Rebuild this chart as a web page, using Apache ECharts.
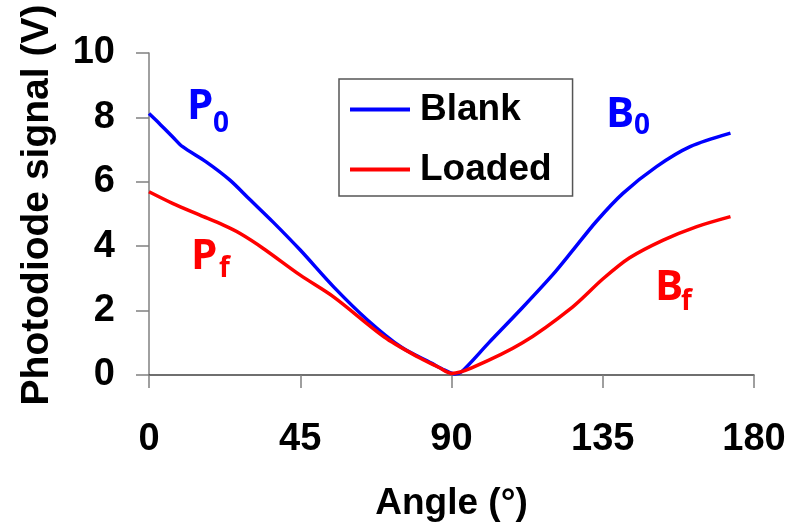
<!DOCTYPE html>
<html>
<head>
<meta charset="utf-8">
<script src="https://cdn.jsdelivr.net/npm/echarts@6/dist/echarts.min.js"></script>
<style>
  html, body { margin: 0; padding: 0; background: #fff; }
  #chart { width: 790px; height: 527px; }
</style>
</head>
<body>
<div id="chart"></div>
<script>
// Photodiode signal vs. polarizer angle, blank and loaded samples
const blankAngles = [0, 3, 7, 10, 17, 24, 30, 37, 45, 55, 65, 75, 84, 88, 91, 93, 101, 111, 120, 126, 133, 141, 151, 161, 173];
const blankSignal = [8.12, 7.82, 7.40, 7.09, 6.62, 6.06, 5.45, 4.74, 3.88, 2.73, 1.71, 0.87, 0.37, 0.15, 0.03, 0.1, 0.99, 2.08, 3.1, 3.86, 4.76, 5.64, 6.47, 7.09, 7.51];
const loadedAngles = [0, 7, 15, 22, 27, 34, 45, 55, 70, 80, 86, 90, 96, 111, 126, 135, 143, 153, 163, 173];
const loadedSignal = [5.69, 5.33, 4.97, 4.66, 4.40, 3.93, 3.1, 2.42, 1.18, 0.56, 0.25, 0.05, 0.22, 0.99, 2.11, 2.98, 3.64, 4.19, 4.61, 4.92];
const xTicks = [0, 45, 90, 135, 180];
const yTicks = [0, 2, 4, 6, 8, 10];
const seriesNames = ['Blank', 'Loaded'];

const pair = (xs, ys) => xs.map((x, i) => [x, ys[i]]);

const fontMain = '"Liberation Sans", Arial, sans-serif';
const fontLabel = '"Open Sans", sans-serif';

// curve annotation: big letter plus subscript
function tag(letter, sub, color, x, y, sx, sy) {
  return [
    { type: 'text', left: x, top: y, style: { text: letter, fill: color, font: 'bold 42px ' + fontLabel } },
    { type: 'text', left: sx, top: sy, style: { text: sub, fill: color, font: 'bold 28px ' + fontLabel } }
  ];
}

const chart = echarts.init(document.getElementById('chart'), null, { renderer: 'canvas' });
chart.setOption({
  animation: false,
  backgroundColor: '#fff',
  grid: { left: 149, right: 36, top: 53, bottom: 152, containLabel: false },
  xAxis: {
    type: 'value',
    min: xTicks[0], max: xTicks[xTicks.length - 1], interval: 45,
    name: 'Angle (°)', nameLocation: 'middle', nameGap: 110,
    nameTextStyle: { fontFamily: fontMain, fontWeight: 'bold', fontSize: 37, color: '#000' },
    axisLine: { lineStyle: { color: '#404040', width: 1.5 } },
    axisTick: { show: true, length: 13, lineStyle: { color: '#808080', width: 1.5 } },
    axisLabel: { margin: 46, fontFamily: fontMain, fontWeight: 'bold', fontSize: 38, color: '#000' },
    splitLine: { show: false }
  },
  yAxis: {
    type: 'value',
    min: yTicks[0], max: yTicks[yTicks.length - 1], interval: 2,
    name: 'Photodiode signal (V)', nameLocation: 'middle', nameGap: 92, nameRotate: 90,
    nameTextStyle: { fontFamily: fontMain, fontWeight: 'bold', fontSize: 39, color: '#000', padding: [0, 0, 0, 18] },
    axisLine: { show: true, lineStyle: { color: '#808080', width: 1.5 } },
    axisTick: { show: true, length: 13, lineStyle: { color: '#808080', width: 1.5 } },
    axisLabel: { margin: 34, fontFamily: fontMain, fontWeight: 'bold', fontSize: 38, color: '#000' },
    splitLine: { show: false }
  },
  legend: {
    orient: 'vertical',
    left: 339, top: 79,
    padding: [12, 21, 8, 11],
    itemWidth: 60, itemHeight: 4, itemGap: 23,
    icon: 'rect',
    borderColor: '#555', borderWidth: 1.5,
    textStyle: { fontFamily: fontMain, fontWeight: 'bold', fontSize: 37, color: '#000', padding: [0, 0, 0, 5] },
    data: seriesNames
  },
  series: [
    {
      name: seriesNames[0], type: 'line', data: pair(blankAngles, blankSignal),
      showSymbol: false, smooth: 0.3,
      lineStyle: { color: '#0000FF', width: 3.5 }, itemStyle: { color: '#0000FF' }
    },
    {
      name: seriesNames[1], type: 'line', data: pair(loadedAngles, loadedSignal),
      showSymbol: false, smooth: 0.3,
      lineStyle: { color: '#FF0000', width: 3.5 }, itemStyle: { color: '#FF0000' }
    }
  ],
  graphic: [
    ...tag('P', '0', '#0000FF', 187, 86, 213, 110),
    ...tag('P', 'f', '#FF0000', 191, 236, 219, 255),
    ...tag('B', '0', '#0000FF', 606, 94, 634, 112),
    ...tag('B', 'f', '#FF0000', 655, 267, 681, 288)
  ]
});
</script>
</body>
</html>
